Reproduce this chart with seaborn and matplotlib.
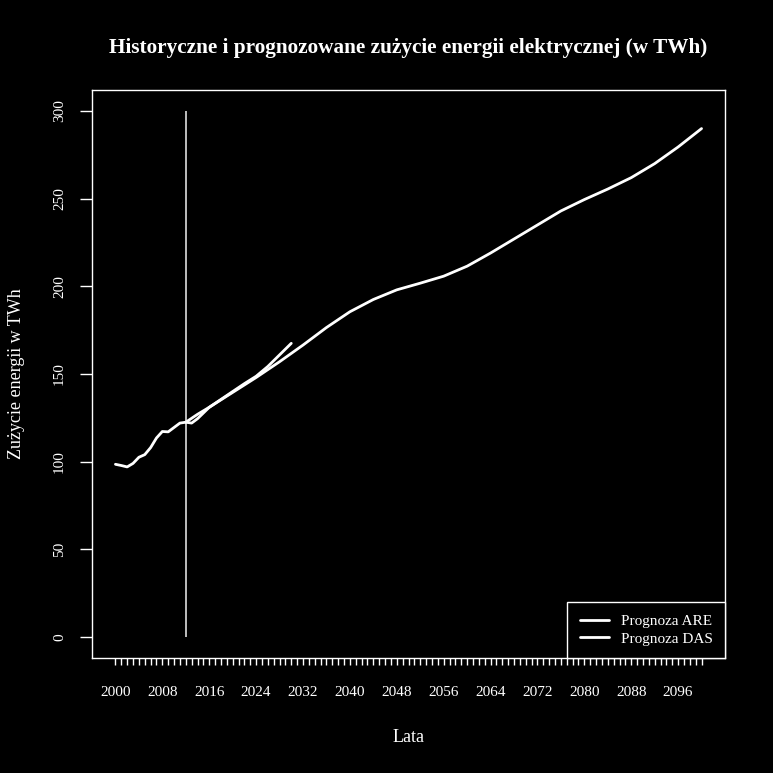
import matplotlib
matplotlib.use("Agg")
import matplotlib.pyplot as plt
import seaborn as sns
import pandas as pd

# ---- data ----
hist_years = list(range(2000, 2013))
hist_vals = [98.5, 97.8, 97.0, 99.0, 102.5, 104.0, 108.0, 113.5, 117.2, 117.0, 119.5, 122.0, 122.5]

are_years = [2012, 2013, 2014, 2016, 2018, 2020, 2022, 2024, 2026, 2028, 2030]
are_vals = [122.5, 122.0, 124.5, 131.0, 135.5, 140.0, 144.5, 148.7, 154.3, 160.9, 167.5]

das_years = [2012, 2014, 2016] + list(range(2020, 2101, 4))
das_vals = [122.5, 127.0, 131.0, 139.5, 148.0, 157.0, 166.5, 176.5, 185.5, 192.5, 198.0,
            201.8, 205.8, 211.5, 219.0, 227.0, 235.0, 243.0, 249.5, 255.5, 262.0, 270.0,
            279.5, 290.0]

split_year = 2012
y_ticks = [0, 50, 100, 150, 200, 250, 300]
x_ticks = list(range(2000, 2101))
x_labels = [str(y) if (y - 2000) % 8 == 0 else "" for y in x_ticks]

title = "Historyczne i prognozowane zużycie energii elektrycznej (w TWh)"
xlabel = "Lata"
ylabel = "Zużycie energii w TWh"
series_names = ["Prognoza ARE", "Prognoza DAS"]

# ---- style ----
sns.set_theme(style="ticks")
plt.rcParams["font.family"] = ["Liberation Serif", "DejaVu Serif"]

W = 773
fig = plt.figure(figsize=(7.73, 7.73), dpi=100, facecolor="black")
ax = fig.add_axes([92 / W, 1 - 658 / W, (725 - 92) / W, (658 - 90) / W])
ax.set_facecolor("black")

df_hist = pd.DataFrame({"year": hist_years, "val": hist_vals})
df_are = pd.DataFrame({"year": are_years, "val": are_vals})
df_das = pd.DataFrame({"year": das_years, "val": das_vals})

lw = 2.0
sns.lineplot(data=df_hist, x="year", y="val", color="white", lw=lw, ax=ax)
sns.lineplot(data=df_are, x="year", y="val", color="white", lw=lw, ax=ax, label=series_names[0])
sns.lineplot(data=df_das, x="year", y="val", color="white", lw=lw, ax=ax, label=series_names[1])

ax.vlines(split_year, y_ticks[0], y_ticks[-1], color="#BEBEBE", lw=1.4, zorder=1)

ax.set_xlim(1996, 2104)
ax.set_ylim(-12, 312)

ax.set_xticks(x_ticks)
ax.set_xticklabels(x_labels)
ax.set_yticks(y_ticks)
ax.set_yticklabels([str(v) for v in y_ticks])

ax.tick_params(axis="x", colors="white", length=5, width=1, pad=15.5, labelsize=11,
               labelcolor="white", direction="out")
ax.tick_params(axis="y", colors="white", length=8.6, width=1, pad=10, labelsize=11,
               labelcolor="white", direction="out", labelrotation=90)
for lab in ax.get_yticklabels():
    lab.set_va("center")

for sp in ax.spines.values():
    sp.set_color("white")
    sp.set_linewidth(1)
    sp.set_visible(True)

ax.set_xlabel("")
ax.set_ylabel("")

fig.text(408.5 / W, 1 - 53 / W, title, ha="center", va="baseline", fontsize=15.3,
         fontweight="bold", color="white")
fig.text(408.5 / W, 1 - 737 / W, xlabel, ha="center", va="center", fontsize=13, color="white")
fig.text(17 / W, 1 - 374 / W, ylabel, ha="center", va="center", fontsize=13, color="white",
         rotation=90)

leg = ax.legend(loc="lower right", borderaxespad=0, frameon=True, fancybox=False,
                facecolor="black", edgecolor="white", fontsize=11, handlelength=1.9,
                handletextpad=0.8, borderpad=0.8, labelspacing=0.25)
leg.get_frame().set_linewidth(1)
leg.get_frame().set_alpha(1)
for t in leg.get_texts():
    t.set_color("white")

fig.savefig("out.png", dpi=100, facecolor="black")
